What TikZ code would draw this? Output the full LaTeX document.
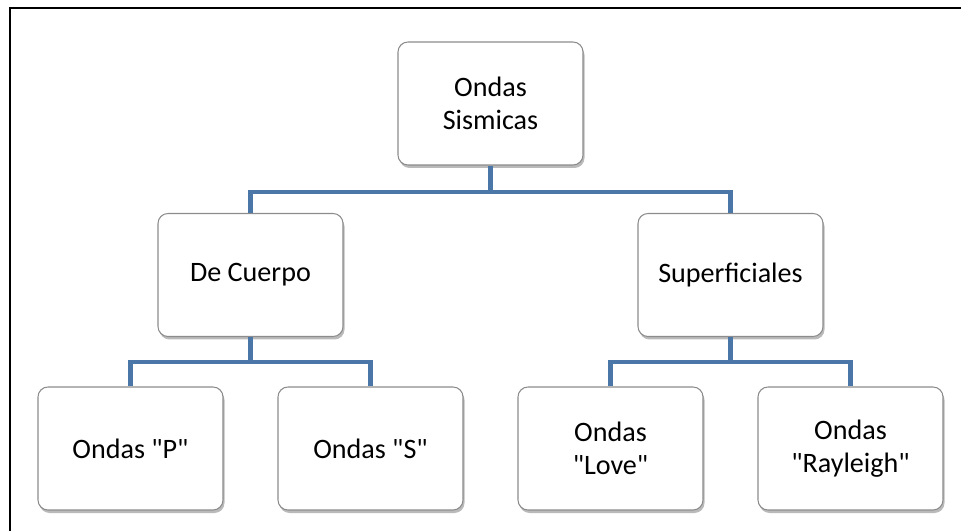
\documentclass[tikz,border=0pt]{standalone}
\usepackage{fontspec}
\setmainfont{Carlito}
\usepackage{tikz}
\usetikzlibrary{shadows}
\usepackage{xcolor}
\definecolor{branchblue}{HTML}{4A76A8}
\definecolor{boxgray}{HTML}{8C8C8C}
\tikzset{%
    wavebox/.style={%
        draw=boxgray, line width=0.6pt, fill=white, rounded corners=0.2cm,
        minimum width=3.7cm, minimum height=2.46cm, align=center,
        font=\fontsize{16}{18.5}\selectfont,
        drop shadow={shadow xshift=0.03cm, shadow yshift=-0.06cm, fill=black!45, opacity=0.6}
    },
    branch/.style={draw=branchblue, line width=2.8pt}
}
\newcommand{\qt}{\textquotedbl}

\begin{document}
\begin{tikzpicture}
	\useasboundingbox (0,0) rectangle (19.22,10.62);
	\draw[line width=1.7pt] (0.2,0) -- (0.2,10.46) -- (19.22,10.46);

	\node[wavebox] (sismicas) at (9.81,8.55) {Ondas\\Sismicas};

	\node[wavebox] (cuerpo) at (5.01,5.12) {De Cuerpo};
	\node[wavebox] (superf) at (14.61,5.12) {Superficiales};

	\node[wavebox] (ondaP) at (2.61,1.65) {Ondas \qt P\qt};
	\node[wavebox] (ondaS) at (7.41,1.65) {Ondas \qt S\qt};
	\node[wavebox] (love) at (12.21,1.65) {Ondas\\\qt Love\qt};
	\node[wavebox] (rayleigh) at (17.01,1.65) {Ondas\\\qt Rayleigh\qt};

	\coordinate (bar1) at (0,6.78);
	\coordinate (bar2) at (0,3.38);

	\draw[branch] (sismicas.south) -- (sismicas.south |- bar1) -| (cuerpo.north);
	\draw[branch] (sismicas.south |- bar1) -| (superf.north);
	\draw[branch] (cuerpo.south) -- (cuerpo.south |- bar2) -| (ondaP.north);
	\draw[branch] (cuerpo.south |- bar2) -| (ondaS.north);
	\draw[branch] (superf.south) -- (superf.south |- bar2) -| (love.north);
	\draw[branch] (superf.south |- bar2) -| (rayleigh.north);
\end{tikzpicture}
\end{document}
